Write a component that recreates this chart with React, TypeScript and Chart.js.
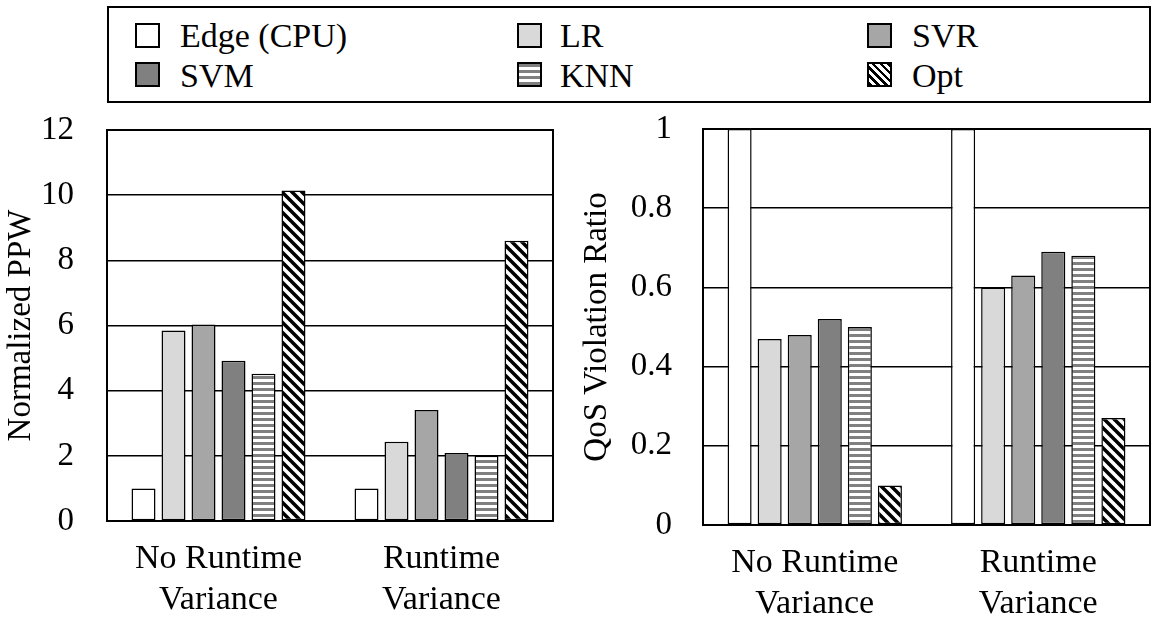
import { useEffect, useRef } from "react"
import { Chart, registerables } from "chart.js"

Chart.register(...registerables)

// categories (multi-line x labels)
const categories = [
  ["No Runtime", "Variance"],
  ["Runtime", "Variance"],
]
const seriesNames = ["Edge (CPU)", "LR", "SVR", "SVM", "KNN", "Opt"]

// Normalized PPW (left panel)
const ppwEdge = [1.0, 1.0]
const ppwLR = [5.85, 2.43]
const ppwSVR = [6.03, 3.41]
const ppwSVM = [4.92, 2.09]
const ppwKNN = [4.52, 2.0]
const ppwOpt = [10.14, 8.6]
const ppwTicks = [0, 2, 4, 6, 8, 10, 12]

// QoS violation ratio (right panel)
const qosEdge = [1.0, 1.0]
const qosLR = [0.47, 0.6]
const qosSVR = [0.48, 0.63]
const qosSVM = [0.52, 0.69]
const qosKNN = [0.5, 0.68]
const qosOpt = [0.1, 0.27]
const qosTicks = [0, 0.2, 0.4, 0.6, 0.8, 1]

const FONT = "'Liberation Serif', 'Times New Roman', serif"

// gray horizontal stripes (KNN)
function stripes(): CanvasPattern | string {
  const c = document.createElement("canvas")
  c.width = 6
  c.height = 6
  const g = c.getContext("2d")
  if (!g) return "#808080"
  g.fillStyle = "#ffffff"
  g.fillRect(0, 0, 6, 6)
  g.fillStyle = "#808080"
  g.fillRect(0, 0, 6, 3)
  return g.createPattern(c, "repeat") || "#808080"
}

// black "\" hatch (Opt)
function hatch(): CanvasPattern | string {
  const s = 10
  const c = document.createElement("canvas")
  c.width = s
  c.height = s
  const g = c.getContext("2d")
  if (!g) return "#000000"
  g.fillStyle = "#ffffff"
  g.fillRect(0, 0, s, s)
  g.strokeStyle = "#000000"
  g.lineWidth = 3.5
  for (const k of [-1, 0, 1]) {
    g.beginPath()
    g.moveTo(-1, -1 + k * s)
    g.lineTo(s + 1, s + 1 + k * s)
    g.stroke()
  }
  return g.createPattern(c, "repeat") || "#000000"
}

// box around the plot area
const framePlugin = {
  id: "frame",
  afterDatasetsDraw(chart: Chart) {
    const { ctx, chartArea: a } = chart
    ctx.save()
    ctx.strokeStyle = "#000"
    ctx.lineWidth = 2
    ctx.strokeRect(a.left, a.top, a.right - a.left, a.bottom - a.top)
    ctx.restore()
  },
}

interface PanelProps {
  series: number[][]
  ticks: number[]
  title: string
  left: number
  width: number
  axisWidth: number
  axisHeight: number
  padTop: number
  padRight: number
  titlePad: number
  tickGap: number
}

function Panel(props: PanelProps) {
  const chartRef = useRef<HTMLCanvasElement>(null)
  const chartInstance = useRef<Chart | null>(null)

  useEffect(() => {
    if (!chartRef.current) return
    if (chartInstance.current) chartInstance.current.destroy()
    const ctx = chartRef.current.getContext("2d")
    if (!ctx) return

    const fills = ["#ffffff", "#d9d9d9", "#a6a6a6", "#808080", stripes(), hatch()]
    const { ticks } = props

    chartInstance.current = new Chart(ctx, {
      type: "bar",
      data: {
        labels: categories,
        datasets: props.series.map((values, i) => ({
          label: seriesNames[i],
          data: values,
          backgroundColor: fills[i] as any,
          borderColor: "#000",
          borderWidth: 1.5,
          borderSkipped: false,
          categoryPercentage: 0.807,
          barPercentage: 0.8,
        })),
      },
      options: {
        animation: false,
        responsive: true,
        maintainAspectRatio: false,
        layout: { padding: { top: props.padTop, right: props.padRight, left: 0, bottom: 0 } },
        plugins: {
          legend: { display: false },
          tooltip: { enabled: false },
        },
        scales: {
          x: {
            grid: { display: false, drawTicks: false },
            border: { display: false },
            ticks: {
              color: "#000",
              padding: 18,
              font: { family: FONT, size: 34, lineHeight: 1.2 },
            },
            afterFit: (scale: any) => {
              scale.height = props.axisHeight
            },
          },
          y: {
            min: ticks[0],
            max: ticks[ticks.length - 1],
            afterBuildTicks: (scale: any) => {
              scale.ticks = ticks.map((v) => ({ value: v }))
            },
            grid: {
              color: "#000",
              lineWidth: 1.5,
              drawTicks: true,
              tickLength: props.tickGap,
              tickColor: "rgba(0,0,0,0)",
            },
            border: { display: false },
            ticks: {
              color: "#000",
              padding: 3,
              font: { family: FONT, size: 33 },
              callback: (v: any) => String(Number(v)),
            },
            title: {
              display: true,
              text: props.title,
              color: "#000",
              font: { family: FONT, size: 33, lineHeight: 1.2 },
              padding: { top: props.titlePad, bottom: 0 },
            },
            afterFit: (scale: any) => {
              scale.width = props.axisWidth
            },
          },
        },
      },
      plugins: [framePlugin],
    })

    return () => {
      if (chartInstance.current) {
        chartInstance.current.destroy()
        chartInstance.current = null
      }
    }
  }, [props])

  return (
    <div style={{ position: "absolute", left: props.left, top: 100, width: props.width, height: 526 }}>
      <canvas ref={chartRef} />
    </div>
  )
}

const legendSwatch = [
  "#ffffff",
  "#d9d9d9",
  "#a6a6a6",
  "#808080",
  "repeating-linear-gradient(to bottom, #808080 0px, #808080 3px, #ffffff 3px, #ffffff 6px)",
  "repeating-linear-gradient(45deg, #000000 0px, #000000 2.5px, #ffffff 2.5px, #ffffff 5.5px)",
]
const legendBoxX = [133, 515, 865]
const legendTextX = [178, 558, 910]
const legendBoxY = [21, 60]
const legendBaseline = [45, 85]

function Legend() {
  return (
    <div
      style={{
        position: "absolute",
        left: 107,
        top: 6,
        width: 1044,
        height: 97,
        border: "2px solid #000",
        boxSizing: "border-box",
      }}
    >
      {seriesNames.map((name, i) => {
        const col = i % 3
        const row = Math.floor(i / 3)
        return (
          <div key={name}>
            <div
              style={{
                position: "absolute",
                left: legendBoxX[col] - 107,
                top: legendBoxY[row] - 6,
                width: 25,
                height: 25,
                border: "2px solid #000",
                boxSizing: "border-box",
                background: legendSwatch[i],
              }}
            />
            <span
              style={{
                position: "absolute",
                left: legendTextX[col] - 107,
                top: legendBaseline[row] - 28.5 - 6,
                fontFamily: FONT,
                fontSize: 34,
                lineHeight: "34px",
                whiteSpace: "nowrap",
                color: "#000",
              }}
            >
              {name}
            </span>
          </div>
        )
      })}
    </div>
  )
}

const ppwSeries = [ppwEdge, ppwLR, ppwSVR, ppwSVM, ppwKNN, ppwOpt]
const qosSeries = [qosEdge, qosLR, qosSVR, qosSVM, qosKNN, qosOpt]

const leftProps: PanelProps = {
  series: ppwSeries,
  ticks: ppwTicks,
  title: "Normalized PPW",
  left: 0,
  width: 565,
  axisWidth: 107,
  axisHeight: 105,
  padTop: 30,
  padRight: 12,
  titlePad: 2,
  tickGap: 30,
}

const rightProps: PanelProps = {
  series: qosSeries,
  ticks: qosTicks,
  title: "QoS Violation Ratio",
  left: 565,
  width: 590,
  axisWidth: 138,
  axisHeight: 101,
  padTop: 29,
  padRight: 5,
  titlePad: 13,
  tickGap: 28,
}

export default function App() {
  return (
    <div
      style={{
        position: "fixed",
        left: 0,
        top: 0,
        width: 1155,
        height: 626,
        background: "#fff",
        overflow: "hidden",
      }}
    >
      <Legend />
      <Panel {...leftProps} />
      <Panel {...rightProps} />
    </div>
  )
}
